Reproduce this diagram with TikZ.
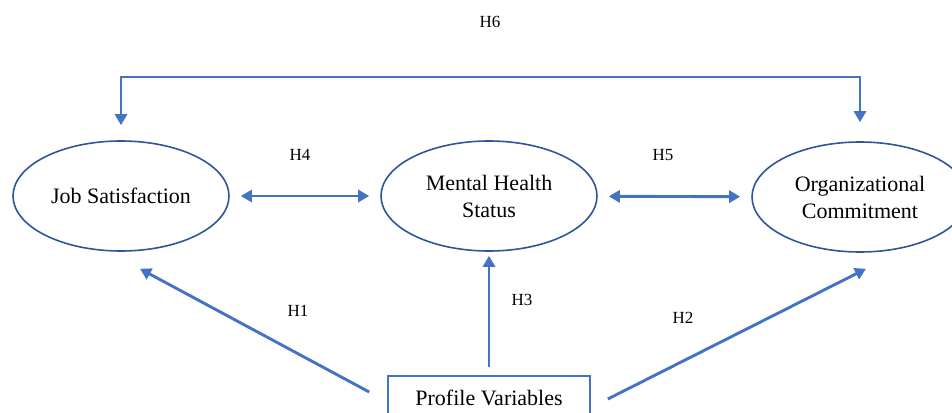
\documentclass[tikz,border=0pt]{standalone}
\usepackage{fontspec}
\setmainfont{Liberation Serif}
\usetikzlibrary{arrows.meta, shapes.geometric}
\definecolor{arrblue}{HTML}{4472C4}
\definecolor{rimblue}{HTML}{2F5597}
\begin{document}
\begin{tikzpicture}[
    x=1pt, y=-1pt,
    latent/.style={draw=rimblue, line width=1.6pt, ellipse, minimum width=216pt, minimum height=110pt, inner sep=0pt, align=center, font=\fontsize{22}{27}\selectfont},
    observed/.style={draw=arrblue, line width=1.6pt, minimum width=202pt, minimum height=44pt, inner sep=0pt, font=\fontsize{22}{27}\selectfont},
    hyp/.style={font=\fontsize{17}{19}\selectfont},
    arr/.style={-{Triangle[length=11pt,width=12pt]}, draw=arrblue, line width=2.9pt},
    dblarr/.style={{Triangle[length=11pt,width=12pt]}-{Triangle[length=11pt,width=12pt]}, draw=arrblue, line width=2.9pt},
]
\useasboundingbox (0,0) rectangle (952,412);
\clip (0,0) rectangle (952,412);

% --- Constructs ---
\node[latent] (js) at (121, 196) {Job Satisfaction};
\node[latent] (mh) at (489, 196) {Mental Health\\Status};
\node[latent] (oc) at (860, 197) {Organizational\\Commitment};

% --- Profile box ---
\node[observed] (pv) at (489, 398) {Profile Variables};

% === Top bracket: H6 ===
\coordinate (top) at (490, 77);
\draw[dblarr, shorten <=15pt, shorten >=19pt] (js.north) |- (top) -| (oc.north);

% === Double arrows between constructs ===
\draw[dblarr, shorten <=11pt, shorten >=11pt] (js) -- (mh);
\draw[dblarr, shorten <=11pt, shorten >=11pt] (mh) -- (oc);

% === Arrows from profile variables ===
\draw[arr] ([xshift=-18pt, yshift=6pt]pv.west) -- ([xshift=19pt, yshift=-17pt]js.south);
\draw[arr, shorten <=8pt, shorten >=4pt] (pv) -- (mh);
\draw[arr] ([xshift=17pt, yshift=-1pt]pv.east) -- ([xshift=6pt, yshift=-16pt]oc.south);

% === Hypothesis labels ===
\node[hyp] (h6) at (490, 22) {H6};
\node[hyp] (h4) at (300, 155) {H4};
\node[hyp] (h5) at (663, 155) {H5};
\node[hyp] (h1) at (298, 311) {H1};
\node[hyp] (h3) at (522, 300) {H3};
\node[hyp] (h2) at (683, 318) {H2};

\end{tikzpicture}
\end{document}
